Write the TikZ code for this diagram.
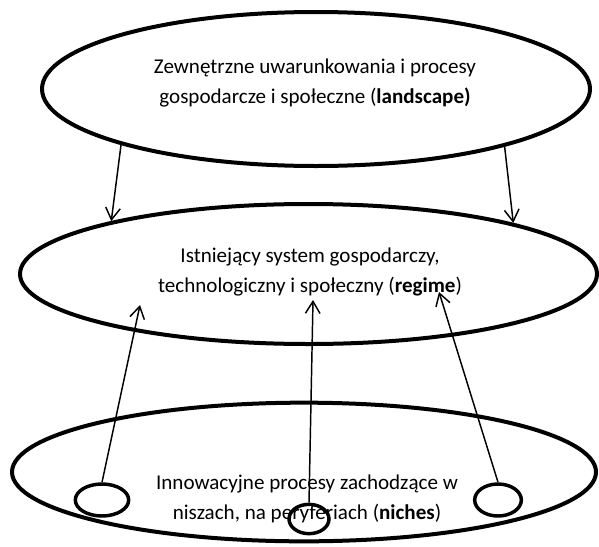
\documentclass[tikz,border=0pt]{standalone}
\usepackage{fontspec}
\setmainfont{Carlito}
\usetikzlibrary{shapes.geometric,arrows.meta}

\begin{document}
\begin{tikzpicture}[x=0.75pt,y=-0.75pt]
\tikzstyle{level}=[draw,ellipse,line width=3pt,inner sep=0pt]
\tikzstyle{niche}=[draw,ellipse,line width=2.6pt,inner sep=0pt]
\tikzstyle{txt}=[align=center,font=\fontsize{15.8}{22}\selectfont]
\tikzstyle{link}=[line width=1.1pt,-{Straight Barb[length=9pt,width=11pt]}]
\useasboundingbox (0,0) rectangle (599,546);
% ========= levels
\node (landscape) at (316,89) [level, minimum width=411pt, minimum height=115.5pt] {};
\node (regime) at (308.5,274) [level, minimum width=432.75pt, minimum height=105pt] {};
\node (niches) at (304,472) [level, minimum width=438pt, minimum height=104pt] {};

\node (landscapetxt) at (315,83) [txt] {Zewnętrzne uwarunkowania i procesy\\gospodarcze i społeczne (\textbf{landscape)}};
\node (regimetxt) at (310,272) [txt] {Istniejący system gospodarczy,\\technologiczny i społeczny (\textbf{regime})};
\node (nichestxt) at (307,499) [txt] {Innowacyjne procesy zachodzące w\\niszach, na peryferiach (\textbf{niches})};

% ========= niches
\node (nicheA) at (102,500) [niche, minimum width=40pt, minimum height=24pt] {};
\node (nicheB) at (309,519) [niche, minimum width=30pt, minimum height=22pt] {};
\node (nicheC) at (498,500) [niche, minimum width=35pt, minimum height=24pt] {};

% ====== connections
\draw [link] (landscape.196.6) -- (regime.165.7);
\draw [link] (landscape.343.4) -- (regime.14);

\coordinate (tipA) at (140,305);
\coordinate (tipB) at (313,300);
\coordinate (tipC) at (439,292);
\draw [link] (nicheA.north) -- (tipA);
\draw [link] (nicheB.north) -- (tipB);
\draw [link] (nicheC.north) -- (tipC);
\end{tikzpicture}
\end{document}
